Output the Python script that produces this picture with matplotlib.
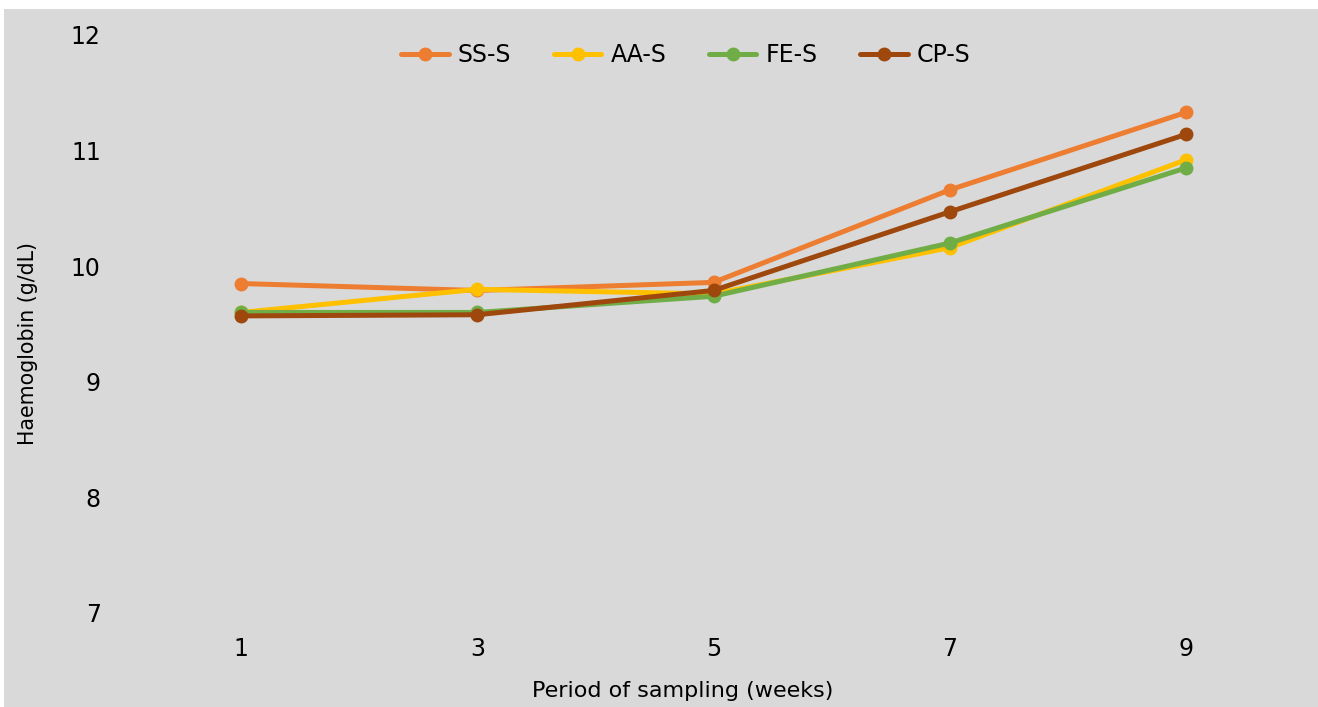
import matplotlib
matplotlib.use("Agg")
import matplotlib.pyplot as plt
from matplotlib.patches import Rectangle

weeks = ["1", "3", "5", "7", "9"]
ss_s = [9.85, 9.79, 9.86, 10.66, 11.33]
aa_s = [9.60, 9.80, 9.76, 10.16, 10.92]
fe_s = [9.60, 9.60, 9.74, 10.20, 10.85]
cp_s = [9.57, 9.58, 9.79, 10.47, 11.14]
series = [("SS-S", ss_s, "#ED7D31"), ("AA-S", aa_s, "#FFC000"),
          ("FE-S", fe_s, "#70AD47"), ("CP-S", cp_s, "#9E480E")]
yticks = [7, 8, 9, 10, 11, 12]

plt.rcParams['font.family'] = ['DejaVu Sans']
W, H = 1318, 707
fig = plt.figure(figsize=(W/100, H/100), dpi=100)
fig.patch.set_facecolor("white")
fig.patches.append(Rectangle((4/W, 0), 1 - 4/W, 1 - 9/H, transform=fig.transFigure,
                             facecolor="#D9D9D9", edgecolor="none", zorder=-10))

ax = fig.add_axes([123/W, 1 - 613/H, (1304-123)/W, (613-35)/H])
ax.set_facecolor("none")
x = list(range(len(weeks)))
for name, vals, col in series:
    ax.plot(x, vals, color=col, lw=3.6, marker="o", ms=9, label=name,
            solid_capstyle="round")
ax.set_xlim(-0.5, len(weeks) - 0.5)
ax.set_ylim(7, 12)
ax.set_xticks(x)
ax.set_xticklabels(weeks)
ax.set_yticks(yticks)
ax.set_yticklabels([str(v) for v in yticks])
for s in ax.spines.values():
    s.set_visible(False)
ax.tick_params(axis="both", length=0, labelsize=17, colors="#000000")
ax.tick_params(axis="y", pad=16)
ax.tick_params(axis="x", pad=17)
fig.text(683/W, 1 - 691/H, "Period of sampling (weeks)", fontsize=16,
         ha="center", va="center")
fig.text(28/W, 1 - 344/H, "Haemoglobin (g/dL)", rotation=90, fontsize=14.8,
         ha="center", va="center")
ax.legend(loc="center", bbox_to_anchor=((686-123)/(1304-123), (613-55)/(613-35)),
          ncol=4, frameon=False, fontsize=17, handlelength=2.0,
          columnspacing=1.8, handletextpad=0.4)
fig.savefig("out.png", dpi=100, facecolor="white")
